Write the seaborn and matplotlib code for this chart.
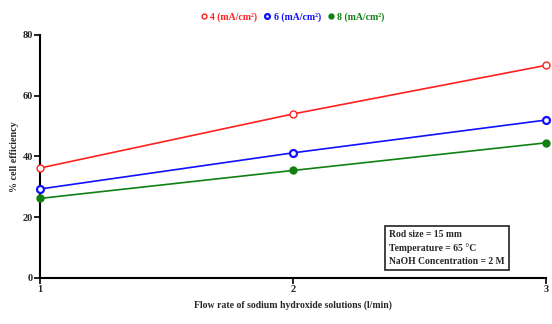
import matplotlib
matplotlib.use("Agg")
import matplotlib.pyplot as plt
import seaborn as sns
import pandas as pd

flow = [1, 2, 3]
eff_4 = [36.2, 54.0, 70.0]
eff_6 = [29.3, 41.2, 52.0]
eff_8 = [26.2, 35.4, 44.5]
labels = ["4 (mA/cm²)", "6 (mA/cm²)", "8 (mA/cm²)"]
colors = ["#ff2020", "#1010ff", "#108010"]

sns.set_theme(style="ticks")
plt.rcParams['font.family'] = ['Liberation Serif', 'DejaVu Serif']
plt.rcParams['font.weight'] = 'bold'

df = pd.DataFrame({
    "flow": flow * 3,
    "eff": eff_4 + eff_6 + eff_8,
    "series": sum([[l] * 3 for l in labels], []),
})

fig = plt.figure(figsize=(5.52, 3.24), dpi=100)
ax = fig.add_axes([0.0725, 0.142, 0.9165, 0.75])

styles = [dict(mfc="white", mew=1.0, ms=5), dict(mfc="white", mew=1.6, ms=5), dict(mfc=None, mew=1.0, ms=5)]
for lab, col, st in zip(labels, colors, styles):
    sub = df[df.series == lab]
    sns.lineplot(data=sub, x="flow", y="eff", ax=ax, color=col, lw=1.2, legend=False)
    ax.plot(sub.flow, sub.eff, ls="none", marker="o", color=col,
            mfc=(st["mfc"] if st["mfc"] else col), mec=col, mew=st["mew"], ms=st["ms"],
            label=lab, clip_on=False, zorder=5)

ax.set_xlim(1, 3)
ax.set_ylim(0, 80)
ax.set_xticks([1, 2, 3])
ax.set_yticks([0, 20, 40, 60, 80])
sns.despine(ax=ax)
for s in ["left", "bottom"]:
    ax.spines[s].set_linewidth(1.5)
    ax.spines[s].set_color("black")
ax.tick_params(axis="both", length=4, width=1.2, labelsize=7.5, pad=1, color="black")
for t in ax.get_xticklabels() + ax.get_yticklabels():
    t.set_fontweight("bold")

ax.set_xlabel("Flow rate of sodium hydroxide solutions (l/min)", fontsize=7, fontweight="bold", labelpad=5)
ax.set_ylabel("% cell efficiency", fontsize=7.2, fontweight="bold", labelpad=3)

leg = ax.legend(loc="center", bbox_to_anchor=(0.5, 1.075), ncol=3, frameon=False,
                fontsize=7, handlelength=0.5, handletextpad=0.4, columnspacing=0.8, markerscale=0.7)
for txt, col in zip(leg.get_texts(), colors):
    txt.set_color(col)
    txt.set_fontweight("bold")

ax.text(0.69, 0.05, "Rod size = 15 mm\nTemperature = 65 °C\nNaOH Concentration = 2 M",
        transform=ax.transAxes, fontsize=6.9, fontweight="bold", va="bottom", ha="left",
        linespacing=1.55,
        bbox=dict(boxstyle="square,pad=0.45", fc="white", ec="#222222", lw=1.2))

fig.savefig("out.png", dpi=100)
